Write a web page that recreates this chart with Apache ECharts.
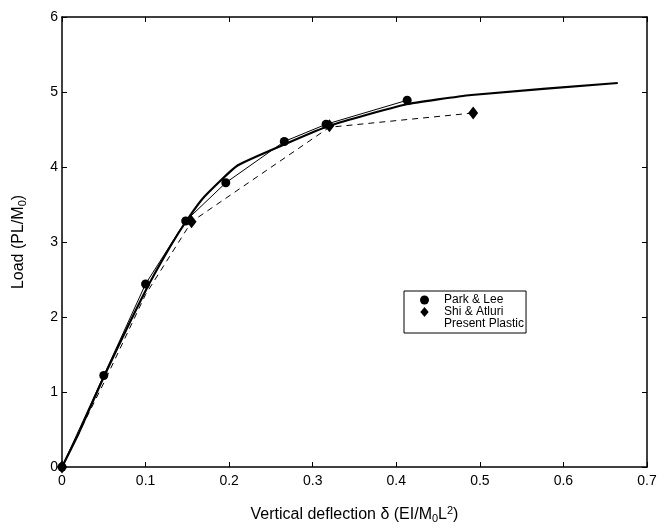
<!DOCTYPE html>
<html>
<head>
<meta charset="utf-8">
<script src="https://cdn.jsdelivr.net/npm/echarts@6/dist/echarts.min.js"></script>
<style>
html,body{margin:0;padding:0;background:#fff;}
#c{width:666px;height:529px;}
</style>
</head>
<body>
<div id="c"></div>
<script>
// Park & Lee (circles, thin solid line)
const parkLeeX = [0, 0.05, 0.10, 0.148, 0.196, 0.266, 0.316, 0.413];
const parkLeeY = [0, 1.22, 2.44, 3.28, 3.79, 4.34, 4.57, 4.89];
// Shi & Atluri (dashed line, diamonds at markers)
const shiLineX = [0, 0.05, 0.10, 0.155, 0.32, 0.492];
const shiLineY = [0, 1.12, 2.30, 3.27, 4.53, 4.72];
const shiMarkX = [0, 0.155, 0.32, 0.492];
const shiMarkY = [0, 3.27, 4.55, 4.72];
// Present Plastic (thick solid)
const plasticX = [0, 0.02, 0.05, 0.10, 0.13, 0.15, 0.17, 0.21, 0.27, 0.32, 0.41, 0.49, 0.665];
const plasticY = [0, 0.45, 1.20, 2.35, 2.95, 3.30, 3.60, 4.02, 4.32, 4.55, 4.83, 4.96, 5.12];

const xTicks = [0, 0.1, 0.2, 0.3, 0.4, 0.5, 0.6, 0.7];
const yTicks = [0, 1, 2, 3, 4, 5, 6];

const pairs = (xs, ys) => xs.map((x, i) => [x, ys[i]]);
const FONT = 'Liberation Sans, Arial, sans-serif';

const chart = echarts.init(document.getElementById('c'), null, {renderer: 'canvas'});
const axisCommon = () => ({
  axisLine: {show: true, onZero: false, lineStyle: {color: '#000', width: 1.5}},
  axisTick: {show: true, inside: true, length: 5, lineStyle: {color: '#000', width: 1}},
  splitLine: {show: false}
});
chart.setOption({
  animation: false,
  backgroundColor: '#fff',
  grid: {left: 62, right: 19, top: 17, bottom: 59, containLabel: false},
  xAxis: [
    Object.assign({
      type: 'value', min: xTicks[0], max: xTicks[xTicks.length - 1], interval: 0.1,
      position: 'bottom',
      axisLabel: {color: '#000', fontSize: 14, fontFamily: FONT, margin: 7,
        formatter: v => String(+v.toFixed(1))},
      name: '{a|Vertical deflection δ (EI/M}{s|0}{a|L}{p|2}{a|)}',
      nameLocation: 'middle', nameGap: 38,
      nameTextStyle: {rich: {
        a: {fontSize: 16, fontFamily: FONT, color: '#000'},
        s: {fontSize: 11, fontFamily: FONT, color: '#000', padding: [8, 0, 0, 0]},
        p: {fontSize: 11, fontFamily: FONT, color: '#000', padding: [0, 0, 8, 0]}
      }}
    }, axisCommon()),
    Object.assign({
      type: 'value', min: 0, max: 0.7, interval: 0.1, position: 'top',
      axisLabel: {show: false}
    }, axisCommon())
  ],
  yAxis: [
    Object.assign({
      type: 'value', min: yTicks[0], max: yTicks[yTicks.length - 1], interval: 1,
      position: 'left',
      axisLabel: {color: '#000', fontSize: 14, fontFamily: FONT, margin: 4},
      name: '{a|Load (PL/M}{s|0}{a|)}',
      nameLocation: 'middle', nameGap: 34, nameRotate: 90,
      nameTextStyle: {rich: {
        a: {fontSize: 16, fontFamily: FONT, color: '#000'},
        s: {fontSize: 11, fontFamily: FONT, color: '#000', padding: [8, 0, 0, 0]}
      }}
    }, axisCommon()),
    Object.assign({
      type: 'value', min: 0, max: 6, interval: 1, position: 'right',
      axisLabel: {show: false}
    }, axisCommon())
  ],
  legend: {
    left: 404, top: 291, orient: 'vertical',
    borderColor: '#000', borderWidth: 1, backgroundColor: '#fff',
    padding: [3, 2, 3, 16],
    itemWidth: 9, itemHeight: 10, itemGap: 0,
    selectedMode: false,
    textStyle: {fontSize: 12, fontFamily: FONT, color: '#000', lineHeight: 11, padding: [0, 0, 0, 10]},
    data: [
      {name: 'Park & Lee', icon: 'circle', itemStyle: {color: '#000', opacity: 1}},
      {name: 'Shi & Atluri', icon: 'path://M5,0 L10,6 L5,12 L0,6 Z', itemStyle: {color: '#000', opacity: 1}},
      {name: 'Present Plastic', icon: 'none'}
    ]
  },
  series: [
    {
      name: 'Present Plastic', type: 'line', data: pairs(plasticX, plasticY),
      showSymbol: false, symbol: 'none', smooth: 0.15,
      lineStyle: {color: '#000', width: 2.2}, itemStyle: {color: '#000'}, z: 3
    },
    {
      name: 'Park & Lee', type: 'line', data: pairs(parkLeeX, parkLeeY),
      symbol: 'circle', symbolSize: 9,
      lineStyle: {color: '#000', width: 1}, itemStyle: {color: '#000', opacity: 1}, z: 4
    },
    {
      name: 'Shi & Atluri line', type: 'line', data: pairs(shiLineX, shiLineY),
      symbol: 'none',
      lineStyle: {color: '#000', width: 1, type: [6, 5]}, z: 2
    },
    {
      name: 'Shi & Atluri', type: 'scatter', data: pairs(shiMarkX, shiMarkY),
      symbol: 'diamond', symbolSize: [10, 13],
      itemStyle: {color: '#000', opacity: 1}, z: 5
    }
  ]
});
</script>
</body>
</html>
